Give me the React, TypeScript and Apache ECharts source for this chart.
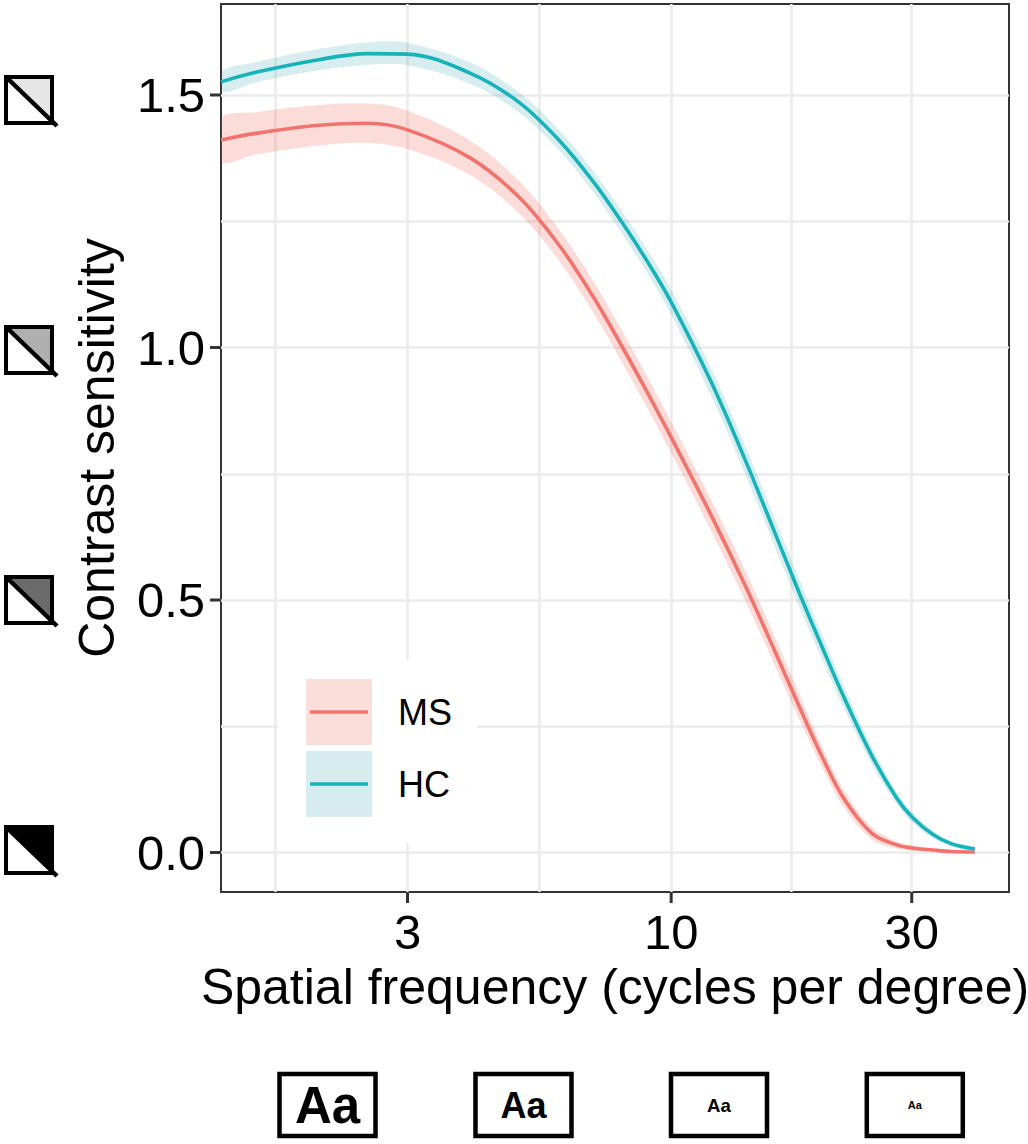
import React, { useEffect, useRef } from "react";
import * as echarts from "echarts";

// ---- data ----
const freq = [1.28, 1.5, 2, 2.5, 3, 4, 5, 6, 7, 8, 9, 10, 12, 14, 16, 18, 20, 22, 25, 28, 30, 33, 36, 40];
const msMean = [1.411, 1.424, 1.44, 1.444, 1.431, 1.375, 1.297, 1.202, 1.101, 1.001, 0.908, 0.822, 0.668, 0.53, 0.402, 0.286, 0.186, 0.107, 0.038, 0.015, 0.009, 0.005, 0.002, 0.001];
const msHalf = [0.043, 0.042, 0.04, 0.039, 0.038, 0.034, 0.032, 0.031, 0.031, 0.031, 0.031, 0.031, 0.031, 0.03, 0.028, 0.025, 0.021, 0.017, 0.012, 0.007, 0.005, 0.003, 0.002, 0.001];
const hcMean = [1.526, 1.545, 1.57, 1.582, 1.581, 1.543, 1.485, 1.41, 1.329, 1.247, 1.168, 1.09, 0.932, 0.779, 0.637, 0.511, 0.403, 0.308, 0.192, 0.108, 0.071, 0.036, 0.017, 0.007];
const hcHalf = [0.02, 0.02, 0.021, 0.022, 0.022, 0.021, 0.02, 0.02, 0.021, 0.022, 0.023, 0.025, 0.027, 0.028, 0.028, 0.027, 0.025, 0.022, 0.017, 0.012, 0.01, 0.007, 0.005, 0.004];

const xMajorBreaks = [3, 10, 30];
const xMinorBreaks = [1.643, 5.477, 17.32];
const yMajorBreaks = [0, 0.5, 1.0, 1.5];
const yMinorBreaks = [0.25, 0.75, 1.25];
const groupNames = ["MS", "HC"];
const contrastGreys = ["#E6E6E6", "#B0B0B0", "#6B6B6B", "#000000"];
const letterSizes = [51, 36, 18.6, 11];

// ---- style / layout ----
const FONT = "'Liberation Sans', Arial, Helvetica, sans-serif";
const MS_COLOR = "#F2736B";
const HC_COLOR = "#16B4BA";
const MS_FILL = "rgba(240,110,95,0.24)";
const HC_FILL = "rgba(40,160,170,0.19)";
const MS_KEY = "#FBDDD9";
const HC_KEY = "#D6ECEE";
const GRID_COLOR = "#EBEBEB";
const AXIS_DARK = "#333333";
const TICK_LEN = 11;
const W = 1028;
const H = 1144;
const G_LEFT = 221;
const G_RIGHT = 19;
const G_TOP = 4;
const G_BOTTOM = 252;

const lx = freq.map((f) => Math.log10(f));
const X_MIN = Math.log10(1.28);
const X_MAX = 1.67;
const Y_MIN = -0.0782;
const Y_MAX = 1.6802;

function bandSeries(name: string, mean: number[], half: number[], fill: string) {
  return {
    name: name + " band",
    type: "custom",
    coordinateSystem: "cartesian2d",
    clip: true,
    silent: true,
    z: 2,
    data: lx.map((x, i) => [x, mean[i] - half[i], mean[i] + half[i]]),
    encode: { x: 0, y: [1, 2] },
    renderItem: (params: any, api: any) => {
      if (params.dataIndexInside !== 0) return null;
      const n = params.dataInsideLength;
      const upper: number[][] = [];
      const lower: number[][] = [];
      for (let i = 0; i < n; i++) {
        upper.push(api.coord([api.value(0, i), api.value(2, i)]));
        lower.push(api.coord([api.value(0, i), api.value(1, i)]));
      }
      const pts = upper.concat(lower.reverse());
      return {
        type: "polygon",
        shape: { points: pts, smooth: 0.35 },
        style: { fill },
        silent: true,
      };
    },
  };
}

function lineSeries(name: string, mean: number[], color: string) {
  return {
    name,
    type: "line",
    data: lx.map((x, i) => [x, mean[i]]),
    symbol: "none",
    smooth: 0.35,
    color,
    itemStyle: { color },
    lineStyle: { color, width: 3.6 },
    z: 3,
  };
}

const keyIcon = "path://M0,0M66,66M4,31.2L62,31.2L62,34.8L4,34.8Z";

// pixel position of an axis value, same linear mapping as the grid's axes
function axisPx(x: number, y: number): number[] {
  const pw = W - G_LEFT - G_RIGHT;
  const ph = H - G_TOP - G_BOTTOM;
  return [G_LEFT + ((x - X_MIN) / (X_MAX - X_MIN)) * pw, G_TOP + ph - ((y - Y_MIN) / (Y_MAX - Y_MIN)) * ph];
}

function buildGraphics() {
  const els: any[] = [];
  // white legend panel + key backgrounds
  els.push({ type: "rect", z: 5, shape: { x: 278, y: 660, width: 199, height: 183 }, style: { fill: "#FFFFFF" } });
  els.push({ type: "rect", z: 6, shape: { x: 306, y: 679, width: 66, height: 66 }, style: { fill: MS_KEY } });
  els.push({ type: "rect", z: 6, shape: { x: 306, y: 751, width: 66, height: 66 }, style: { fill: HC_KEY } });
  // contrast icons on the left
  const iconCenters = [100, 350, 600, 850];
  contrastGreys.forEach((g, i) => {
    const cy = iconCenters[i];
    els.push({
      type: "group",
      children: [
        { type: "rect", shape: { x: 6, y: cy - 23, width: 46, height: 46 }, style: { fill: "#FFFFFF" } },
        { type: "polygon", shape: { points: [[6, cy - 23], [52, cy - 23], [52, cy + 23]] }, style: { fill: g } },
        { type: "rect", shape: { x: 6, y: cy - 23, width: 46, height: 46 }, style: { fill: "none", stroke: "#000", lineWidth: 4 } },
        { type: "line", shape: { x1: 6, y1: cy - 23, x2: 57, y2: cy + 26 }, style: { stroke: "#000", lineWidth: 4.5 } },
      ],
    });
  });
  // letter-size boxes at the bottom
  const boxCenters = [327.5, 523.5, 719, 914.8];
  letterSizes.forEach((s, i) => {
    const cx = boxCenters[i];
    els.push({
      type: "group",
      children: [
        { type: "rect", shape: { x: cx - 48, y: 1074, width: 96, height: 62 }, style: { fill: "#FFFFFF", stroke: "#000", lineWidth: 4.5 } },
        {
          type: "text",
          style: {
            text: "Aa",
            x: cx,
            y: 1105,
            align: "center",
            verticalAlign: "middle",
            fontFamily: FONT,
            fontWeight: "bold",
            fontSize: s,
            fill: "#000",
          },
        },
      ],
    });
  });
  // outward axis ticks (ggplot style)
  xMajorBreaks.forEach((v) => {
    const p = axisPx(Math.log10(v), Y_MIN);
    els.push({ type: "rect", z: 20, shape: { x: p[0] - 1.5, y: p[1], width: 3, height: TICK_LEN }, style: { fill: AXIS_DARK } });
  });
  yMajorBreaks.forEach((v) => {
    const p = axisPx(X_MIN, v);
    els.push({ type: "rect", z: 20, shape: { x: p[0] - TICK_LEN, y: p[1] - 1.5, width: TICK_LEN, height: 3 }, style: { fill: AXIS_DARK } });
  });
  return els;
}

export default function App() {
  const ref = useRef<HTMLDivElement>(null);

  useEffect(() => {
    if (!ref.current) return;
    const chart = echarts.init(ref.current, undefined, { renderer: "svg" });
    const option: any = {
      animation: false,
      backgroundColor: "#FFFFFF",
      textStyle: { fontFamily: FONT },
      grid: {
        left: G_LEFT,
        right: G_RIGHT,
        top: G_TOP,
        bottom: G_BOTTOM,
        show: true,
        borderColor: AXIS_DARK,
        borderWidth: 2,
        backgroundColor: "transparent",
        containLabel: false,
        outerBoundsMode: "none",
      },
      xAxis: [
        {
          type: "value",
          min: X_MIN,
          max: X_MAX,
          position: "bottom",
          name: "Spatial frequency (cycles per degree)",
          nameLocation: "middle",
          nameGap: 70,
          nameTextStyle: { fontSize: 50, color: "#000", fontFamily: FONT },
          axisLine: { show: false, onZero: false },
          axisTick: { show: false, customValues: xMajorBreaks.map((v) => Math.log10(v)) },
          axisLabel: {
            customValues: xMajorBreaks.map((v) => Math.log10(v)),
            formatter: (v: number) => String(Math.round(Math.pow(10, v))),
            fontSize: 49,
            color: "#000",
            fontFamily: FONT,
            margin: 15,
          },
          splitLine: { show: true, lineStyle: { color: GRID_COLOR, width: 2.5 } },
        },
        {
          type: "value",
          min: X_MIN,
          max: X_MAX,
          position: "bottom",
          axisLine: { show: false, onZero: false },
          axisTick: { show: false, customValues: xMinorBreaks.map((v) => Math.log10(v)) },
          axisLabel: { show: false, customValues: xMinorBreaks.map((v) => Math.log10(v)) },
          splitLine: { show: true, lineStyle: { color: GRID_COLOR, width: 2.5 } },
        },
      ],
      yAxis: [
        {
          type: "value",
          min: Y_MIN,
          max: Y_MAX,
          position: "left",
          name: "Contrast sensitivity",
          nameLocation: "middle",
          nameGap: 99,
          nameTextStyle: { fontSize: 50, color: "#000", fontFamily: FONT },
          axisLine: { show: false, onZero: false },
          axisTick: { show: false, customValues: yMajorBreaks },
          axisLabel: {
            customValues: yMajorBreaks,
            formatter: (v: number) => v.toFixed(1),
            fontSize: 49,
            color: "#000",
            fontFamily: FONT,
            margin: 16,
          },
          splitLine: { show: true, lineStyle: { color: GRID_COLOR, width: 2.5 } },
        },
        {
          type: "value",
          min: Y_MIN,
          max: Y_MAX,
          position: "left",
          axisLine: { show: false, onZero: false },
          axisTick: { show: false, customValues: yMinorBreaks },
          axisLabel: { show: false, customValues: yMinorBreaks },
          splitLine: { show: true, lineStyle: { color: GRID_COLOR, width: 2.5 } },
        },
      ],
      legend: {
        data: [
          { name: groupNames[0], icon: keyIcon, itemStyle: { color: MS_COLOR } },
          { name: groupNames[1], icon: keyIcon, itemStyle: { color: HC_COLOR } },
        ],
        orient: "vertical",
        left: 278,
        top: 660,
        padding: [19, 25, 26, 28],
        itemWidth: 66,
        itemHeight: 66,
        itemGap: 6,
        selectedMode: false,
        textStyle: { fontSize: 36, color: "#000", fontFamily: FONT, padding: [0, 0, 0, 21] },
        z: 10,
      },
      graphic: buildGraphics(),
      series: [
        bandSeries("MS", msMean, msHalf, MS_FILL),
        bandSeries("HC", hcMean, hcHalf, HC_FILL),
        lineSeries(groupNames[0], msMean, MS_COLOR),
        lineSeries(groupNames[1], hcMean, HC_COLOR),
      ],
    };
    chart.setOption(option);
    return () => chart.dispose();
  }, []);

  return (
    <div
      ref={ref}
      style={{ position: "fixed", left: 0, top: 0, width: W + "px", height: H + "px", background: "#fff" }}
    />
  );
}
